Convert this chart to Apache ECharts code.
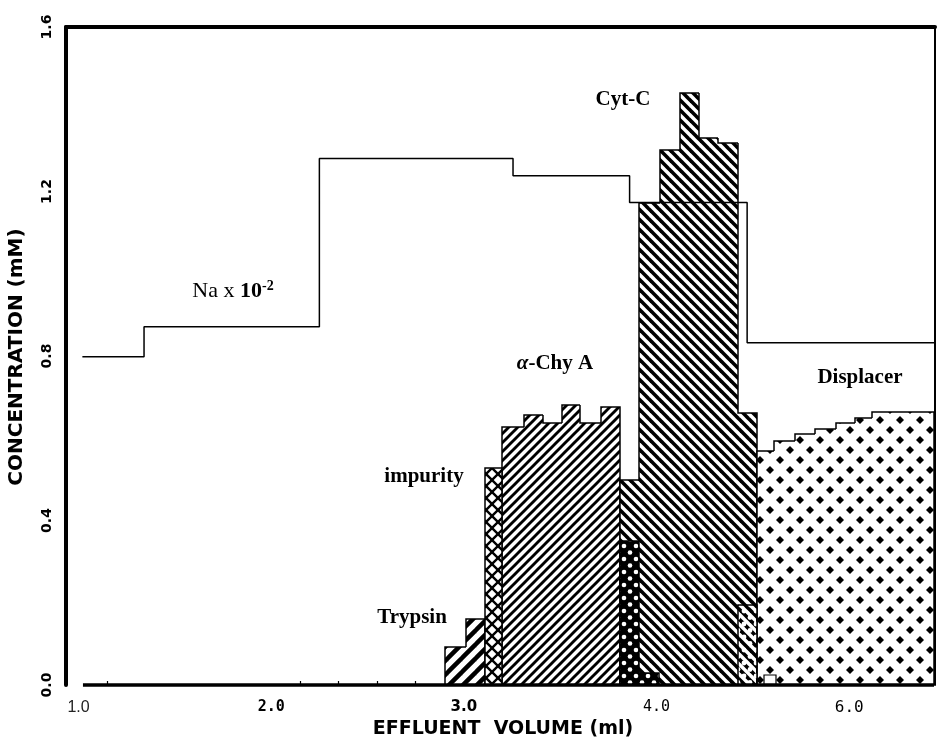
<!DOCTYPE html>
<html><head><meta charset="utf-8">
<script src="https://cdn.jsdelivr.net/npm/echarts@6/dist/echarts.min.js"></script>
<style>html,body{margin:0;padding:0;background:#fff}#c{width:938px;height:743px}</style>
</head><body><div id="c"></div>
<script>
// ---- data (fraction start ml, fraction end ml, concentration mM) ----
const trypsin   = [[2.90,3.01,0.093],[3.01,3.11,0.160]];
const impurity  = [[3.11,3.20,0.527]];
const chyA      = [[3.20,3.31,0.628],[3.31,3.41,0.657],[3.41,3.51,0.638],[3.51,3.60,0.681],[3.60,3.71,0.638],[3.71,3.81,0.677]];
const cytC      = [[3.81,3.91,0.499],[3.91,4.02,1.173],[4.02,4.12,1.302],[4.12,4.22,1.440],[4.22,4.32,1.330],[4.32,4.42,1.318],[4.42,4.52,0.661]];
const minorPeak = [[3.81,3.91,0.349],[3.91,4.01,0.030]];
const tailPeak  = [[4.42,4.52,0.195]];
const smallTail = [[4.56,4.62,0.024]];
const displacer = [[4.52,4.61,0.568],[4.61,4.72,0.594],[4.72,4.82,0.611],[4.82,4.93,0.623],[4.93,5.03,0.637],[5.03,5.12,0.650],[5.12,5.44,0.664]];
const naX = [1.02,1.34,2.25,3.255,3.86,4.47,5.44];
const naY = [0.798,0.871,1.280,1.238,1.173,0.832,0.832];
const baseX = [1.023,2.0,2.9,3.5,4.0,4.5,5.0,5.44];
const baseY = [0,0,0,0,0,0,0,0];
const xTickValues = [1,2,3,4,5];
const xTickLabels = ['1.0','2.0','3.0','4.0','6.0'];
const xMinorTicks = [1.15,2.15,2.35,2.55,2.75,2.95,3.15,3.35,3.55,3.75,3.95,4.15,4.35,4.55,4.75,4.95,5.15,5.35];
const yTicks = [0,0.4,0.8,1.2,1.6];

// ---- patterns ----
function tile(w,h,bg){const c=document.createElement('canvas');c.width=w;c.height=h;const g=c.getContext('2d');if(bg){g.fillStyle=bg;g.fillRect(0,0,w,h);}return [c,g];}
function hatch(P,w,dirs){
  const [c,g]=tile(P,P,'#fff');
  g.strokeStyle='#000';g.lineWidth=w;g.lineCap='square';
  dirs.forEach(d=>{
    for(let k=-1;k<=1;k++){
      g.beginPath();
      if(d==='/'){g.moveTo(k*P,P);g.lineTo(k*P+P,0);}else{g.moveTo(k*P,0);g.lineTo(k*P+P,P);}
      g.stroke();
    }
  });
  return {image:c,repeat:'repeat'};
}
function dots(cw,ch,r,fg,bg,diamond){
  const [c,g]=tile(cw,ch,bg);
  g.fillStyle=fg;
  const pts=[[0,0],[cw,0],[0,ch],[cw,ch],[cw/2,ch/2]];
  pts.forEach(p=>{
    g.beginPath();
    if(diamond){g.moveTo(p[0],p[1]-r);g.lineTo(p[0]+r,p[1]);g.lineTo(p[0],p[1]+r);g.lineTo(p[0]-r,p[1]);g.closePath();}
    else g.arc(p[0],p[1],r,0,Math.PI*2);
    g.fill();
  });
  return {image:c,repeat:'repeat'};
}
const patTrypsin = hatch(14,4.5,['/']);
const patImpurity = hatch(12,2.4,['/','\\']);
const patChy = hatch(9,2.9,['/']);
const patCyt = hatch(10,3.6,['\\']);
const patMinor = dots(12,13,2.3,'#fff','#000',false);
const patTail = dots(12,13,2.4,'#fff',null,false);
const patDisp = dots(20,20,4,'#000','#fff',true);

function hist(name,list,fill,z,lw){
  return {
    type:'custom', name:name, z:z, data:list, encode:{x:[0,1],y:2}, silent:true, clip:false,
    renderItem:function(params,api){
      const i=params.dataIndex;
      const x0=api.value(0),x1=api.value(1),v=api.value(2);
      const a=api.coord([x0,v]),b=api.coord([x1,0]);
      const prev=(i>0&&Math.abs(list[i-1][1]-x0)<1e-6)?list[i-1][2]:0;
      const hasNext=(i<list.length-1&&Math.abs(list[i+1][0]-x1)<1e-6);
      const pp=api.coord([x0,prev]);
      const X0=Math.round(a[0]),X1=Math.round(b[0]),Y=Math.round(a[1]),B=Math.round(b[1]),PY=Math.round(pp[1]);
      const pts=[[X0,PY],[X0,Y],[X1,Y]];
      if(!hasNext)pts.push([X1,B]);
      const children=[];
      if(fill)children.push({type:'rect',shape:{x:X0,y:Y,width:X1-X0,height:B-Y},style:{fill:fill,stroke:null}});
      children.push({type:'polyline',shape:{points:pts},style:{stroke:'#000',lineWidth:lw||1.5,fill:null}});
      return {type:'group',children:children};
    }
  };
}

const chart=echarts.init(document.getElementById('c'),null,{renderer:'canvas'});
const serif='"Liberation Serif","Times New Roman",serif';
chart.setOption({
  animation:false,
  backgroundColor:'#fff',
  grid:{left:66,right:3,top:27,bottom:58},
  xAxis:[{
    type:'value',min:0.935,max:5.445,
    axisLine:{show:false},
    splitLine:{show:false},
    axisTick:{show:true,inside:true,length:4,customValues:xMinorTicks,lineStyle:{color:'#000',width:1.2}},
    axisLabel:{
      customValues:xTickValues,margin:15,
      formatter:function(v){const i=xTickValues.indexOf(Math.round(v*1000)/1000);return i<0?'':'{s'+i+'|'+xTickLabels[i]+'}';},
      rich:{
        s0:{fontFamily:'Liberation Sans',fontSize:16,color:'#222'},
        s1:{fontFamily:'DejaVu Sans Mono',fontWeight:'bold',fontSize:15,color:'#000'},
        s2:{fontFamily:'DejaVu Sans',fontWeight:'bold',fontSize:15,color:'#000'},
        s3:{fontFamily:'DejaVu Sans Mono',fontSize:15,color:'#000'},
        s4:{fontFamily:'DejaVu Sans Mono',fontSize:16,color:'#000'}
      }
    }
  },{
    type:'value',position:'top',min:0.935,max:5.445,
    axisLine:{show:true,onZero:false,lineStyle:{color:'#000',width:4}},
    axisTick:{show:false},axisLabel:{show:false},splitLine:{show:false}
  }],
  yAxis:[{
    type:'value',min:yTicks[0],max:yTicks[yTicks.length-1],interval:0.4,
    axisLine:{show:true,onZero:false,lineStyle:{color:'#000',width:4}},
    axisTick:{show:false},splitLine:{show:false},
    axisLabel:{rotate:90,margin:12,color:'#000',fontFamily:'DejaVu Sans',fontWeight:'bold',fontSize:14,formatter:v=>v.toFixed(1)}
  },{
    type:'value',position:'right',min:yTicks[0],max:yTicks[yTicks.length-1],
    axisLine:{show:true,onZero:false,lineStyle:{color:'#000',width:2}},
    axisTick:{show:false},axisLabel:{show:false},splitLine:{show:false}
  }],
  series:[
    hist('α-Chy A',chyA,patChy,2),
    hist('Cyt-C',cytC,patCyt,2),
    hist('Trypsin',trypsin,patTrypsin,2),
    hist('impurity',impurity,patImpurity,2),
    hist('Displacer',displacer,patDisp,2),
    hist('minor',minorPeak,patMinor,3),
    hist('tail',tailPeak,patTail,3),
    hist('small',smallTail,null,4,1.2),
    {type:'line',name:'baseline',data:baseX.map((x,i)=>[x,baseY[i]]),symbol:'none',z:5,silent:true,clip:false,lineStyle:{color:'#000',width:3.5}},
    {type:'line',name:'Na',data:naX.map((x,i)=>[x,naY[i]]),step:'end',symbol:'none',z:6,silent:true,lineStyle:{color:'#000',width:1.5}}
  ],
  graphic:[
    {type:'text',x:17,y:357,rotation:Math.PI/2,style:{text:'CONCENTRATION (mM)',font:'bold 20px "DejaVu Sans"',fill:'#000',align:'center',verticalAlign:'middle'}},
    {type:'text',x:503,y:729,style:{text:'EFFLUENT  VOLUME (ml)',font:'bold 19px "DejaVu Sans"',fill:'#000',align:'center',verticalAlign:'middle'}},
    {type:'text',x:623,y:100,style:{text:'Cyt-C',font:'bold 21px '+serif,fill:'#000',align:'center',verticalAlign:'middle'}},
    {type:'text',x:555,y:364,style:{text:'{a|α}-Chy A',font:'bold 21px '+serif,fill:'#000',align:'center',verticalAlign:'middle',rich:{a:{fontStyle:'italic',fontWeight:'bold',fontSize:21,fontFamily:'Liberation Serif'}}}},
    {type:'text',x:860,y:378,style:{text:'Displacer',font:'bold 21px '+serif,fill:'#000',align:'center',verticalAlign:'middle'}},
    {type:'text',x:424,y:477,style:{text:'impurity',font:'bold 21px '+serif,fill:'#000',align:'center',verticalAlign:'middle'}},
    {type:'text',x:412,y:618,style:{text:'Trypsin',font:'bold 21px '+serif,fill:'#000',align:'center',verticalAlign:'middle'}},
    {type:'text',x:233,y:291,style:{text:'{n|Na x }{b|10}{s|-2}',fill:'#000',align:'center',verticalAlign:'middle',
      rich:{n:{fontFamily:'Liberation Serif',fontSize:22,color:'#000'},b:{fontFamily:'Liberation Serif',fontWeight:'bold',fontSize:22,color:'#000'},s:{fontFamily:'Liberation Serif',fontWeight:'bold',fontSize:14,color:'#000',padding:[0,0,10,0]}}}}
  ]
});
</script></body></html>
